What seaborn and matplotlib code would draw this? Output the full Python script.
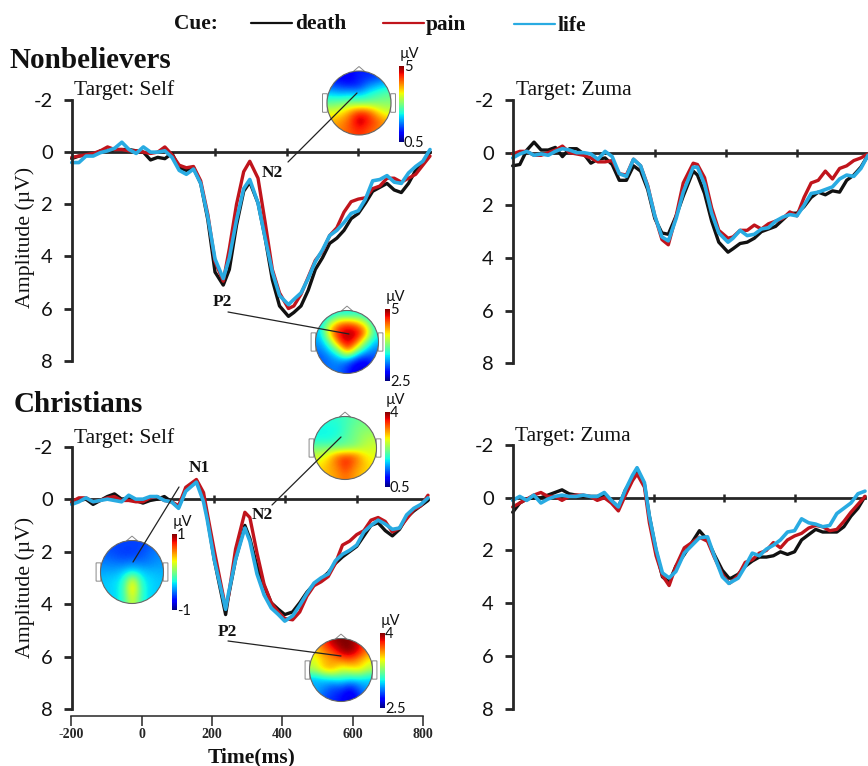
import numpy as np
import pandas as pd
import matplotlib
matplotlib.use('Agg')
import matplotlib.pyplot as plt
from matplotlib.lines import Line2D
from matplotlib.patches import Circle, Polygon, FancyBboxPatch
from matplotlib.cm import ScalarMappable
from matplotlib.colors import Normalize
import seaborn as sns

W, H = 868, 766

cues = ['death', 'pain', 'life']
cue_colors = {'death': '#111111', 'pain': '#C0141C', 'life': '#29ABE2'}
cue_widths = {'death': 2.4, 'pain': 2.4, 'life': 2.6}

base = [-200, -180, -160, -140, -120, -100, -80, -60, -40, -20, 0, 20, 40, 60, 80, 100, 120]
tail = [420, 440, 460, 480, 500, 520, 540, 560, 580, 600, 620, 640, 660, 680, 700, 720, 740, 760, 780, 800]
times_a = base + [140, 160, 180, 200, 223, 240, 260, 280, 297, 320, 340, 360, 380, 405] + tail
times_b = base + [140, 160, 180, 200, 220, 238, 260, 280, 308, 320, 340, 360, 380, 406] + tail
times_c = base + [150, 170, 180, 200, 232, 240, 260, 286, 300, 320, 340, 360, 380, 398] + tail
times_d = base + [140, 153, 174, 188, 207, 225, 244, 263, 287, 330, 353, 372, 395, 414] + tail

death_a = [.25, .15, .1, .1, -.05, -.05, -.1, -.1, -.1, -.05, 0, .3, .2, .25, .05, .6, .7,
           .6, 1.2, 2.6, 4.6, 5.1, 4.5, 2.8, 1.5, 1.15, 1.95, 3.3, 4.9, 5.9, 6.3,
           6.15, 5.9, 5.3, 4.5, 4.05, 3.5, 3.3, 3.0, 2.55, 2.35, 1.95, 1.5, 1.35, 1.2, 1.45, 1.55, 1.2, .7, .4, 0]
pain_a = [.2, .15, .1, .05, -.05, -.2, -.1, -.1, -.05, -.05, 0, .05, 0, -.2, .1, .5, .6,
          .55, 1.1, 2.4, 4.2, 4.95, 3.7, 2.0, .75, .35, 1.0, 2.7, 4.5, 5.4, 6.0,
          5.9, 5.45, 4.8, 4.15, 3.8, 3.2, 2.9, 2.3, 1.9, 1.8, 1.75, 1.4, 1.3, 1.0, 1.0, 1.15, 1.0, .85, .5, .15]
life_a = [.4, .4, .15, .15, .02, -.05, -.15, -.38, -.1, .05, -.2, 0, 0, -.05, .2, .7, .85,
          .65, 1.2, 2.5, 4.1, 4.85, 4.05, 2.6, 1.4, 1.05, 1.95, 3.3, 4.6, 5.5, 5.85,
          5.65, 5.4, 4.85, 4.2, 3.75, 3.2, 3.0, 2.7, 2.35, 2.25, 1.8, 1.1, 1.05, .9, 1.15, 1.2, .8, .55, .35, -.1]

death_b = [.5, .45, -.1, -.4, -.1, -.1, -.2, .15, -.15, -.15, .05, .4, .25, .2, .45, 1.05, 1.05,
           .5, .7, 1.4, 2.5, 3.05, 3.1, 2.4, 1.65, .7, .85, 1.55, 2.6, 3.4, 3.78,
           3.65, 3.45, 3.4, 3.25, 3.0, 2.9, 2.8, 2.55, 2.3, 2.3, 2.05, 1.7, 1.5, 1.6, 1.45, 1.5, 1.05, .85, .55, .1]
pain_b = [.05, -.05, -.05, .1, .1, 0, -.1, -.25, 0, .05, .1, .2, .35, .35, .3, .8, .85,
          .25, .5, 1.25, 2.4, 3.3, 3.5, 2.4, 1.15, .4, .45, .95, 2.1, 2.95, 3.25,
          3.2, 2.95, 2.95, 2.75, 2.9, 2.7, 2.6, 2.5, 2.25, 2.4, 1.7, 1.15, 1.05, .7, 1.0, .6, .5, .3, .2, .05]
life_b = [.2, .05, -.05, .1, .05, .1, -.05, -.15, -.1, 0, 0, .05, .25, -.05, .15, .8, .9,
          .25, .5, 1.3, 2.4, 3.2, 3.35, 2.5, 1.5, .55, .55, 1.2, 2.3, 3.05, 3.4,
          3.25, 2.95, 3.15, 3.1, 2.9, 2.85, 2.6, 2.45, 2.35, 2.4, 2.0, 1.55, 1.5, 1.4, 1.3, 1.0, .85, .9, .6, .1]

death_c = [.15, .05, 0, .2, .05, -.1, -.2, 0, -.05, .05, .15, .05, 0, -.1, .1, .3, -.35,
           -.7, -.1, .65, 2.3, 4.4, 3.7, 2.3, 1.0, 1.5, 2.55, 3.3, 3.95, 4.2, 4.4,
           4.3, 3.95, 3.55, 3.25, 3.05, 2.8, 2.45, 2.2, 2.0, 1.8, 1.4, 1.0, .9, 1.2, 1.4, 1.15, .7, .45, .25, .05]
pain_c = [.1, -.05, -.05, .1, .05, -.05, -.1, .05, .05, .1, .1, -.05, -.1, .05, .1, .25, -.45,
          -.75, -.25, .5, 1.95, 4.15, 3.7, 1.9, .5, .7, 2.05, 3.25, 3.95, 4.3, 4.55,
          4.6, 4.3, 3.7, 3.3, 3.15, 2.95, 2.45, 1.75, 1.6, 1.35, 1.2, .8, .7, .85, 1.25, 1.1, .75, .4, .25, -.15]
life_c = [.2, .1, -.05, .1, .05, 0, .05, .1, -.15, 0, 0, -.1, -.1, .05, .1, .35, -.3,
          -.65, .1, .75, 2.3, 4.2, 3.6, 2.3, 1.1, 1.6, 2.85, 3.65, 4.15, 4.4, 4.65,
          4.45, 4.05, 3.6, 3.2, 3.0, 2.85, 2.35, 2.1, 1.95, 1.75, 1.25, 1.0, .8, .95, 1.15, 1.1, .6, .35, .2, -.05]

death_d = [.55, .2, .05, 0, 0, -.1, -.2, -.3, -.15, -.1, -.05, -.05, -.05, -.1, .1, .35, -.3,
           -.7, -1.0, -.5, .7, 2.0, 3.0, 3.2, 2.6, 2.15, 1.25, 1.6, 2.15, 2.75, 3.05,
           3.05, 2.9, 2.6, 2.4, 2.25, 2.25, 2.2, 2.05, 2.15, 2.05, 1.6, 1.4, 1.2, 1.3, 1.3, 1.3, 1.1, .7, .4, -.05]
pain_d = [.35, .2, .05, -.1, -.2, -.05, -.05, .1, -.05, -.1, -.1, -.05, .1, 0, .2, .5, -.1,
          -.65, -.9, -.4, .95, 2.2, 2.95, 3.33, 2.6, 1.9, 1.5, 1.65, 2.25, 2.9, 3.25,
          3.2, 2.95, 2.45, 2.35, 2.1, 2.0, 1.7, 1.9, 1.6, 1.45, 1.35, 1.15, 1.05, 1.1, 1.25, 1.2, .9, .55, .25, -.05]
life_d = [.1, -.05, .1, -.1, .2, .05, -.05, -.1, -.05, -.05, -.1, -.05, -.05, -.2, .1, .35, -.3,
          -.85, -1.14, -.57, .7, 1.96, 2.85, 3.04, 2.8, 2.1, 1.52, 1.48, 2.2, 3.0, 3.25,
          3.2, 3.05, 2.6, 2.1, 2.2, 1.95, 1.8, 1.6, 1.3, 1.25, .8, .95, 1.0, 1.1, 1.05, .6, .4, .2, -.15, -.25]

scalp_n2_non = [[1.0, 1.0, 1.0, 1.2, 1.2, 1.3, 1.4],
                [1.4, 1.2, 1.1, 1.2, 1.6, 1.8, 2.0],
                [2.0, 1.9, 2.0, 1.9, 2.2, 2.4, 2.6],
                [2.6, 2.7, 2.8, 2.7, 2.7, 2.8, 2.8],
                [3.3, 3.4, 3.9, 4.4, 4.3, 3.6, 3.2],
                [3.7, 3.9, 4.2, 4.9, 4.5, 4.2, 3.8],
                [3.9, 4.0, 4.2, 4.4, 4.2, 4.0, 3.8]]
scalp_p2_non = [[3.3, 3.3, 3.5, 3.4, 3.5, 3.4, 3.3],
                [3.3, 3.9, 4.4, 4.6, 4.4, 4.0, 3.4],
                [3.3, 4.3, 4.8, 4.9, 4.9, 4.5, 3.5],
                [3.2, 3.7, 4.6, 4.9, 4.6, 3.8, 3.3],
                [3.1, 3.3, 3.7, 4.6, 3.8, 3.3, 3.1],
                [3.0, 3.1, 3.2, 3.2, 2.9, 2.8, 3.0],
                [3.1, 3.1, 3.1, 2.9, 2.7, 2.7, 2.9]]
scalp_n2_chr = [[1.8, 1.9, 1.9, 2.0, 2.1, 2.2, 2.2],
                [1.8, 1.8, 1.8, 2.0, 2.2, 2.3, 2.3],
                [1.8, 1.8, 1.9, 2.1, 2.2, 2.4, 2.5],
                [2.2, 2.2, 2.2, 2.2, 2.3, 2.5, 2.6],
                [2.6, 2.8, 3.3, 3.5, 3.4, 2.9, 2.7],
                [2.8, 3.0, 3.2, 3.6, 3.2, 3.0, 2.8],
                [2.9, 3.0, 3.1, 3.3, 3.1, 2.9, 2.8]]
scalp_n1_chr = [[-.58, -.62, -.62, -.62, -.62, -.58, -.52],
                [-.58, -.6, -.64, -.64, -.6, -.52, -.48],
                [-.5, -.52, -.54, -.5, -.52, -.5, -.45],
                [-.42, -.42, -.35, -.28, -.35, -.38, -.4],
                [-.36, -.32, -.25, .35, -.25, -.32, -.36],
                [-.35, -.32, -.2, .5, -.2, -.32, -.36],
                [-.36, -.32, -.22, .3, -.22, -.32, -.36]]
scalp_p2_chr = [[3.6, 3.75, 3.95, 4.0, 4.0, 3.85, 3.7],
                [3.5, 3.65, 3.75, 3.95, 4.0, 3.85, 3.65],
                [3.4, 3.55, 3.6, 3.65, 3.7, 3.6, 3.45],
                [3.35, 3.55, 3.6, 3.4, 3.45, 3.5, 3.35],
                [2.95, 3.0, 3.05, 3.1, 3.05, 3.05, 3.0],
                [2.95, 2.9, 2.8, 2.8, 2.7, 2.85, 2.95],
                [2.95, 2.8, 2.75, 2.7, 2.6, 2.75, 2.9]]

sns.set_style('white')
plt.rcParams['font.family'] = ['Liberation Serif', 'DejaVu Sans']
plt.rcParams['axes.unicode_minus'] = False
serif = 'Liberation Serif'
sans = 'Lato'

fig = plt.figure(figsize=(W / 100, H / 100), dpi=100)


def px_axes(left, right, top, bottom):
    return fig.add_axes([left / W, 1 - bottom / H, (right - left) / W, (bottom - top) / H])


def px_text(x, y, s, size, weight='normal', family=serif, ha='center', va='center', **kw):
    fig.text(x / W, 1 - y / H, s, fontsize=size, fontweight=weight, family=family, ha=ha, va=va, color='#111111', **kw)


def px_line(x0, y0, x1, y1, color='#222222', lw=0.9):
    fig.add_artist(Line2D([x0 / W, x1 / W], [1 - y0 / H, 1 - y1 / H], color=color, lw=lw, zorder=10))


def erp_panel(rect, times, death, pain, life):
    ax = px_axes(*rect)
    ax.patch.set_alpha(0)
    rows = []
    for cue, vals in zip(cues, [death, pain, life]):
        rows.append(pd.DataFrame({'time': times, 'amp': vals, 'cue': cue}))
    df = pd.concat(rows)
    for cue in cues:
        sns.lineplot(data=df[df['cue'] == cue], x='time', y='amp', color=cue_colors[cue], lw=cue_widths[cue],
                     estimator=None, legend=False, ax=ax, clip_on=False, solid_joinstyle='round')
    ax.set_xlim(-200, 800)
    ax.set_ylim(8, -2)
    ax.set_xlabel('')
    ax.set_ylabel('')
    ax.spines['top'].set_visible(False)
    ax.spines['right'].set_visible(False)
    ax.spines['left'].set_linewidth(2.0)
    ax.spines['bottom'].set_position(('data', 0))
    ax.spines['bottom'].set_linewidth(2.0)
    ax.spines['bottom'].set_zorder(1)
    ax.set_yticks([-2, 0, 2, 4, 6, 8])
    ax.set_xticks([200, 400, 600])
    ax.tick_params(axis='y', left=True, direction='out', length=5.5, width=2.0, pad=8, labelsize=14.5, labelcolor='#111111')
    ax.tick_params(axis='x', bottom=True, direction='inout', length=6, width=1.8, labelbottom=False)
    for lab in ax.get_yticklabels():
        lab.set_family(sans)
    return ax


erp_panel((71.7, 430, 100, 360.7), times_a, death_a, pain_a, life_a)
erp_panel((512.7, 868, 100, 363.3), times_b, death_b, pain_b, life_b)
erp_panel((71.7, 428, 446.7, 709), times_c, death_c, pain_c, life_c)
erp_panel((512.7, 865, 445, 708.7), times_d, death_d, pain_d, life_d)

# separate time axis under the lower left panel
tax = px_axes(71.3, 423, 700, 716)
tax.patch.set_alpha(0)
tax.set_xlim(-200, 800)
tax.set_yticks([])
for side in ['top', 'left', 'right']:
    tax.spines[side].set_visible(False)
tax.spines['bottom'].set_linewidth(1.1)
tax.set_xticks([-200, 0, 200, 400, 600, 800])
tax.tick_params(axis='x', bottom=True, direction='out', length=7.5, width=1.1, pad=1.5, labelsize=10)
for lab in tax.get_xticklabels():
    lab.set_fontweight('bold')
    lab.set_family(serif)


def scalp(cx, cy, r, grid, vmin, vmax, cbar, hi, lo):
    side = r * 1.35
    ax = px_axes(cx - side, cx + side, cy - side, cy + side)
    ax.set_zorder(3)
    ax.patch.set_alpha(0)
    ax.axis('off')
    im = ax.imshow(grid, extent=(-1, 1, -1, 1), cmap='jet', vmin=vmin, vmax=vmax, interpolation='bicubic', zorder=2)
    ax.set_xlim(-1.35, 1.35)
    ax.set_ylim(-1.35, 1.35)
    head = Circle((0, 0), 1, fc='none', ec='#666666', lw=0.8, zorder=3)
    ax.add_patch(head)
    im.set_clip_path(head)
    ax.add_patch(Polygon([[-.18, .985], [0, 1.14], [.18, .985]], fc='white', ec='#888888', lw=0.7, zorder=1))
    for sx in (-1, 1):
        x0 = -1.13 if sx < 0 else 1.0
        ax.add_patch(FancyBboxPatch((x0, -.28), .13, .56, boxstyle='round,pad=0.01', fc='white', ec='#888888', lw=0.7, zorder=1))
    left, right, top, bottom = cbar
    cax = px_axes(left, right, top, bottom)
    cb = fig.colorbar(ScalarMappable(Normalize(vmin, vmax), 'jet'), cax=cax)
    cb.set_ticks([])
    cb.outline.set_visible(False)
    px_text(right + 5, top - 12, 'µV', 10.5, family=sans)
    px_text(right, top + 1, hi, 10.5, family=sans, ha='left')
    px_text(right, bottom + 1, lo, 10.5, family=sans, ha='left')


scalp(359, 103, 32, scalp_n2_non, 0.5, 5, (399, 404, 66, 142), '5', '0.5')
scalp(347, 342, 31.5, scalp_p2_non, 2.5, 5, (385, 390, 309, 381), '5', '2.5')
scalp(345, 448, 31.5, scalp_n2_chr, 0.5, 4, (385, 390, 412, 487), '4', '0.5')
scalp(132, 572, 31.5, scalp_n1_chr, -1, 1, (172, 177, 534, 610), '1', '-1')
scalp(341, 670, 31.5, scalp_p2_chr, 2.5, 4, (380, 385, 633, 708), '4', '2.5')

px_line(288, 162, 357, 93)
px_line(228, 312, 349, 334)
px_line(179, 487, 133, 562)
px_line(272, 505, 341, 437)
px_line(228, 641, 341, 656)

px_text(272, 173, 'N2', 12.5, 'bold')
px_text(222, 302, 'P2', 12.5, 'bold')
px_text(199, 468, 'N1', 12.5, 'bold')
px_text(262, 515, 'N2', 12.5, 'bold')
px_text(227, 632, 'P2', 12.5, 'bold')

px_text(10, 60, 'Nonbelievers', 21, 'bold', ha='left')
px_text(14, 405, 'Christians', 21, 'bold', ha='left')
px_text(74, 90, 'Target: Self', 15.5, ha='left')
px_text(516, 90, 'Target: Zuma', 15.5, ha='left')
px_text(74, 438, 'Target: Self', 15.5, ha='left')
px_text(515, 437, 'Target: Zuma', 15.5, ha='left')
px_text(25, 237, 'Amplitude (µV)', 15.7, rotation=90)
px_text(25, 587, 'Amplitude (µV)', 15.7, rotation=90)
px_text(252, 757, 'Time(ms)', 15.5, 'bold')

# cue key along the top
px_text(174, 24, 'Cue:', 15.4, 'bold', ha='left')
px_line(251, 23, 292, 23, cue_colors['death'], 1.6)
px_text(295, 24, 'death', 15.4, 'bold', ha='left')
px_line(383, 23, 424, 23, cue_colors['pain'], 1.6)
px_text(426, 25, 'pain', 15.4, 'bold', ha='left')
px_line(514, 24, 555, 24, cue_colors['life'], 1.6)
px_text(558, 26, 'life', 15.4, 'bold', ha='left')

fig.savefig('out.png', dpi=100)
